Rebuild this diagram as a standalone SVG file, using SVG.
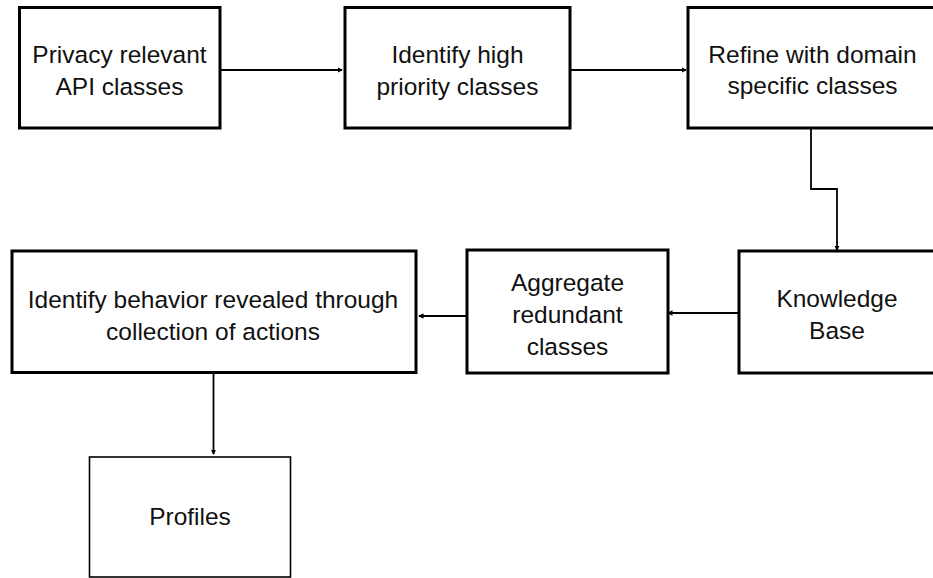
<svg xmlns="http://www.w3.org/2000/svg" width="933" height="578" viewBox="0 0 933 578">
  <style>
    .box { fill: #ffffff; stroke: #000000; stroke-width: 3; }
    .thin { fill: #ffffff; stroke: #000000; stroke-width: 1.6; }
    .lbl { font-family: "Liberation Sans", Arial, sans-serif; font-size: 24.5px; fill: #111111; text-anchor: middle; }
    .edge { fill: none; stroke: #000000; stroke-width: 1.8; }
  </style>
  <defs>
    <marker id="head" viewBox="0 0 6 6" refX="5" refY="3" markerWidth="3" markerHeight="3" orient="auto" markerUnits="strokeWidth">
      <path d="M0,0 L6,3 L0,6 Z" fill="#000000"/>
    </marker>
  </defs>
  <rect width="933" height="578" fill="#ffffff"/>

  <g id="connectors">
    <path class="edge" d="M220,70 H342" marker-end="url(#head)"/>
    <path class="edge" d="M570,70 H686" marker-end="url(#head)"/>
    <path class="edge" d="M811,128 V189 H837 V250" marker-end="url(#head)"/>
    <path class="edge" d="M739,313 H668" marker-end="url(#head)"/>
    <path class="edge" d="M467,316 H419" marker-end="url(#head)"/>
    <path class="edge" d="M213.5,372 V454" marker-end="url(#head)"/>
  </g>

  <g id="privacy-api">
    <rect class="box" x="19.5" y="7.5" width="200.5" height="120.5"/>
    <text class="lbl" x="119.5" y="63">Privacy relevant</text>
    <text class="lbl" x="119.5" y="95">API classes</text>
  </g>

  <g id="high-priority">
    <rect class="box" x="345" y="7.5" width="225" height="120.5"/>
    <text class="lbl" x="457.5" y="63">Identify high</text>
    <text class="lbl" x="457.5" y="95">priority classes</text>
  </g>

  <g id="domain-specific">
    <rect class="box" x="688" y="7.5" width="250" height="120.5"/>
    <text class="lbl" x="812.5" y="63">Refine with domain</text>
    <text class="lbl" x="812.5" y="94">specific classes</text>
  </g>

  <g id="knowledge-base">
    <rect class="box" x="739" y="251" width="198" height="122"/>
    <text class="lbl" x="837" y="307">Knowledge</text>
    <text class="lbl" x="837" y="339">Base</text>
  </g>

  <g id="aggregate">
    <rect class="box" x="467" y="250" width="201" height="123"/>
    <text class="lbl" x="567.5" y="291">Aggregate</text>
    <text class="lbl" x="567.5" y="323">redundant</text>
    <text class="lbl" x="567.5" y="355">classes</text>
  </g>

  <g id="behavior">
    <rect class="box" x="12" y="251" width="404" height="121.5"/>
    <text class="lbl" x="213" y="308">Identify behavior revealed through</text>
    <text class="lbl" x="213" y="340">collection of actions</text>
  </g>

  <g id="profiles">
    <rect class="thin" x="89.5" y="457" width="201" height="120"/>
    <text class="lbl" x="190" y="525">Profiles</text>
  </g>
</svg>
